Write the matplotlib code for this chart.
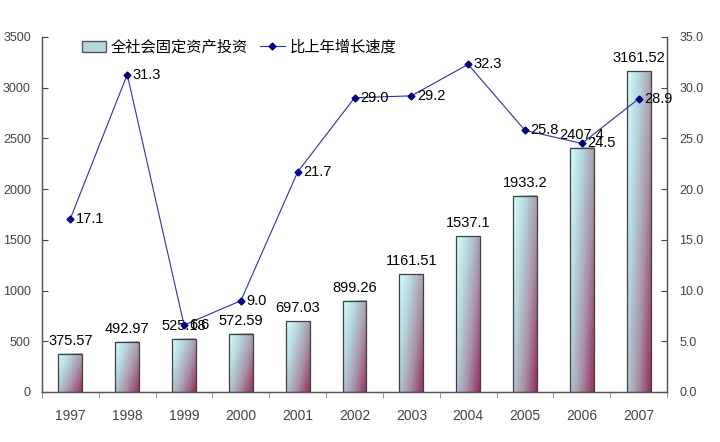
import numpy as np
import matplotlib
matplotlib.use("Agg")
import matplotlib.pyplot as plt
from matplotlib.colors import LinearSegmentedColormap
from matplotlib.patches import Rectangle
from matplotlib.lines import Line2D

plt.rcParams['font.family'] = ['Noto Sans CJK SC', 'DejaVu Sans']

years = ["1997", "1998", "1999", "2000", "2001", "2002", "2003", "2004", "2005", "2006", "2007"]
investment = [375.57, 492.97, 525.18, 572.59, 697.03, 899.26, 1161.51, 1537.1, 1933.2, 2407.4, 3161.52]
inv_labels = ["375.57", "492.97", "525.18", "572.59", "697.03", "899.26", "1161.51", "1537.1", "1933.2", "2407.4", "3161.52"]
growth = [17.1, 31.3, 6.6, 9.0, 21.7, 29.0, 29.2, 32.3, 25.8, 24.5, 28.9]

NUM_FONT = "Liberation Sans"

fig = plt.figure(figsize=(7.2, 4.42), dpi=100)
ax = fig.add_axes([42 / 720, 1 - 392 / 442, 625 / 720, 355 / 442])
ax2 = ax.twinx()

x = np.arange(len(years))
w = 0.42
cmap = LinearSegmentedColormap.from_list("bar", ["#d4ffff", "#b4d4dc", "#a890a8", "#953060"])
# diagonal gradient inside each bar: top-left light cyan -> bottom-right maroon
gx, gy = np.meshgrid(np.linspace(0, 1, 40), np.linspace(0, 1, 120))
grad = 0.6 * gx + 0.4 * gy   # row 0 = top of bar

for xi, v, lab in zip(x, investment, inv_labels):
    ax.imshow(grad, cmap=cmap, extent=(xi - w / 2, xi + w / 2, 0, v), aspect="auto",
              origin="upper", zorder=2, interpolation="bilinear", vmin=0, vmax=1)
    ax.add_patch(Rectangle((xi - w / 2, 0), w, v, fill=False, edgecolor="#404040", lw=0.9, zorder=3))
    ax.text(xi, v + 60, lab, ha="center", va="bottom", fontsize=10.5, family=NUM_FONT, zorder=5)

ax.set_xlim(-0.5, 10.5)
ax.set_ylim(0, 3500)
ax.set_yticks(np.arange(0, 3501, 500))
ax.set_xticks(x)
ax.set_xticklabels(years, family=NUM_FONT)
ax.set_xticks(np.arange(-0.5, 10.6, 1), minor=True)
ax.tick_params(axis="x", which="major", length=0, pad=12, labelsize=10, labelcolor="#444444")
ax.tick_params(axis="x", which="minor", length=4, color="#888888", direction="out")
ax.tick_params(axis="y", direction="in", length=4, pad=8, labelsize=9, labelcolor="#444444", color="#444444")
for t in ax.get_yticklabels():
    t.set_family(NUM_FONT)

ax2.plot(x, growth, color="#3030a0", lw=0.8, marker="D", markersize=3.5,
         markerfacecolor="#000080", markeredgecolor="#000080", zorder=4)
for xi, g in zip(x, growth):
    ax2.text(xi + 0.1, g, f"{g:.1f}", ha="left", va="center", fontsize=10.5, family=NUM_FONT, zorder=6)
ax2.set_ylim(0, 35)
ax2.set_yticks(np.arange(0, 35.1, 5))
ax2.set_yticklabels([f"{t:.1f}" for t in np.arange(0, 35.1, 5)], family=NUM_FONT)
ax2.tick_params(axis="y", direction="in", length=4, pad=9, labelsize=9, labelcolor="#444444", color="#444444")
ax2.set_zorder(ax.get_zorder() + 1)
ax2.patch.set_visible(False)

for a in (ax, ax2):
    a.spines["top"].set_visible(False)
    for s in ("left", "right", "bottom"):
        a.spines[s].set_color("#555555")
        a.spines[s].set_linewidth(0.9)

handles = [Rectangle((0, 0), 1, 1, facecolor="#b8d8e0", edgecolor="#555555"),
           Line2D([0], [0], color="#3030a0", lw=0.8, marker="D", markersize=3.5,
                  markerfacecolor="#000080", markeredgecolor="#000080")]
fig.legend(handles, ["全社会固定资产投资", "比上年增长速度"], loc="center left",
           bbox_to_anchor=(68 / 720, 1 - 47 / 442), ncol=2, frameon=False,
           fontsize=11, handlelength=1.6, handletextpad=0.3, columnspacing=0.8)

fig.savefig("out.png", dpi=100)
